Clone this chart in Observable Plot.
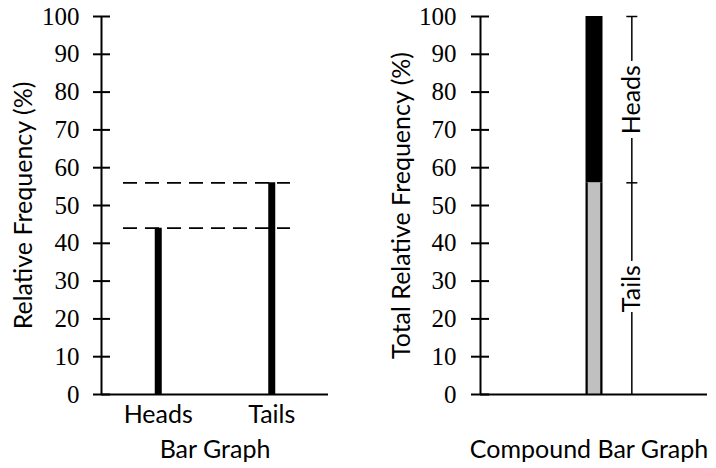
<!DOCTYPE html>
<html>
<head>
<meta charset="utf-8">
<script src="https://cdn.jsdelivr.net/npm/d3@7"></script>
<script src="https://cdn.jsdelivr.net/npm/@observablehq/plot@0.6"></script>
<style>
  body { margin: 0; background: #fff; }
  #wrap { position: relative; width: 716px; height: 468px; overflow: hidden; }
  #wrap svg { position: absolute; top: 0; }
</style>
</head>
<body>
<div id="wrap"></div>
<script>
// ---- data ----
const coinSides = ["Heads", "Tails"];
const relFreq = [44, 56];
const yTicks = [0, 10, 20, 30, 40, 50, 60, 70, 80, 90, 100];
const compoundOrder = ["Tails", "Heads"];
const compoundValues = [56, 44];
const compoundX = 1.5;
const bracketX = 2;
const leftTitle = "Bar Graph";
const rightTitle = "Compound Bar Graph";
const leftYLabel = "Relative Frequency (%)";
const rightYLabel = "Total Relative Frequency (%)";

// ---- styling ----
const SANS = "Lato, 'Liberation Sans', sans-serif";
const SERIF = "'Liberation Serif', 'DejaVu Serif', serif";
const FS = 25;
const GRAY = "#c0c0c0";

const bars = coinSides.map((side, i) => ({ side, value: relFreq[i], x: i + 0.5 }));
const stackData = compoundOrder.map((side, i) => ({ side, value: compoundValues[i] }));
const total = d3.sum(compoundValues);

const hline = {
  draw(ctx, size) {
    const r = Math.sqrt(size / Math.PI);
    ctx.moveTo(-r, 0);
    ctx.lineTo(r, 0);
  }
};

const common = {
  width: 358,
  height: 468,
  marginTop: 16,
  marginBottom: 74,
  style: { background: "transparent", color: "black", fontFamily: SANS, fontSize: FS + "px", overflow: "visible" },
  y: { domain: [0, 100] }
};

const left = Plot.plot({
  ...common,
  marginLeft: 101,
  marginRight: 30,
  x: { domain: [0, coinSides.length] },
  marks: [
    Plot.ruleY(relFreq, { y: d => d, stroke: "black", strokeWidth: 1.8, strokeDasharray: "14,8", insetLeft: 22, insetRight: 38 }),
    Plot.ruleX(bars, { x: "x", y1: 0, y2: "value", stroke: "black", strokeWidth: 7 }),
    Plot.ruleX([0], { stroke: "black", strokeWidth: 2 }),
    Plot.ruleY([0], { stroke: "black", strokeWidth: 2 }),
    Plot.axisY({ ticks: yTicks, tickFormat: d => String(d), tickSize: 17, dx: 9, tickPadding: 14, strokeWidth: 2, fontSize: FS, label: null }),
    Plot.axisX({ ticks: bars.map(d => d.x), tickFormat: v => coinSides[Math.round(v - 0.5)], tickSize: 0, tickPadding: 11, fontSize: FS, label: null }),
    Plot.text([leftYLabel], { frameAnchor: "left", textAnchor: "middle", rotate: -90, dx: -78, fontSize: FS }),
    Plot.text([leftTitle], { frameAnchor: "bottom", textAnchor: "middle", lineAnchor: "bottom", dy: 63, fontSize: FS })
  ]
});

const right = Plot.plot({
  ...common,
  marginLeft: 122,
  marginRight: 9,
  x: { domain: [0, 3], axis: null },
  marks: [
    Plot.ruleX(stackData, Plot.stackY({ x: compoundX, y: "value", stroke: "black", strokeWidth: 17 })),
    Plot.ruleX(stackData.filter(d => d.side === "Tails"), Plot.stackY({ x: compoundX, y: "value", stroke: GRAY, strokeWidth: 12.5 })),
    Plot.ruleX([bracketX], { y1: 0, y2: total, stroke: "black", strokeWidth: 1.5 }),
    Plot.dot(stackData, Plot.stackY2({ x: bracketX, y: "value", symbol: hline, r: 5.5, fill: "none", stroke: "black", strokeWidth: 1.5 })),
    Plot.text(stackData, Plot.stackY({ x: bracketX, y: "value", text: "side", rotate: -90, fontSize: FS, fill: "black", stroke: "white", strokeWidth: 12 })),
    Plot.ruleX([0], { stroke: "black", strokeWidth: 2 }),
    Plot.ruleY([0], { stroke: "black", strokeWidth: 2 }),
    Plot.axisY({ ticks: yTicks, tickFormat: d => String(d), tickSize: 18, dx: 9, tickPadding: 15, strokeWidth: 2, fontSize: FS, label: null }),
    Plot.text([rightYLabel], { frameAnchor: "left", textAnchor: "middle", rotate: -90, dx: -79, fontSize: FS }),
    Plot.text([rightTitle], { frameAnchor: "bottom", textAnchor: "middle", lineAnchor: "bottom", dy: 63, dx: -5, fontSize: FS })
  ]
});

// numeric tick labels in a serif face, as in the reference
for (const svg of [left, right]) {
  d3.select(svg).selectAll("text")
    .filter(function () { return /^\d+$/.test(this.textContent.trim()); })
    .attr("font-family", SERIF)
    .style("font-family", SERIF);
}

left.style.left = "0px";
right.style.left = "358px";
const wrap = document.getElementById("wrap");
wrap.appendChild(left);
wrap.appendChild(right);
</script>
</body>
</html>
